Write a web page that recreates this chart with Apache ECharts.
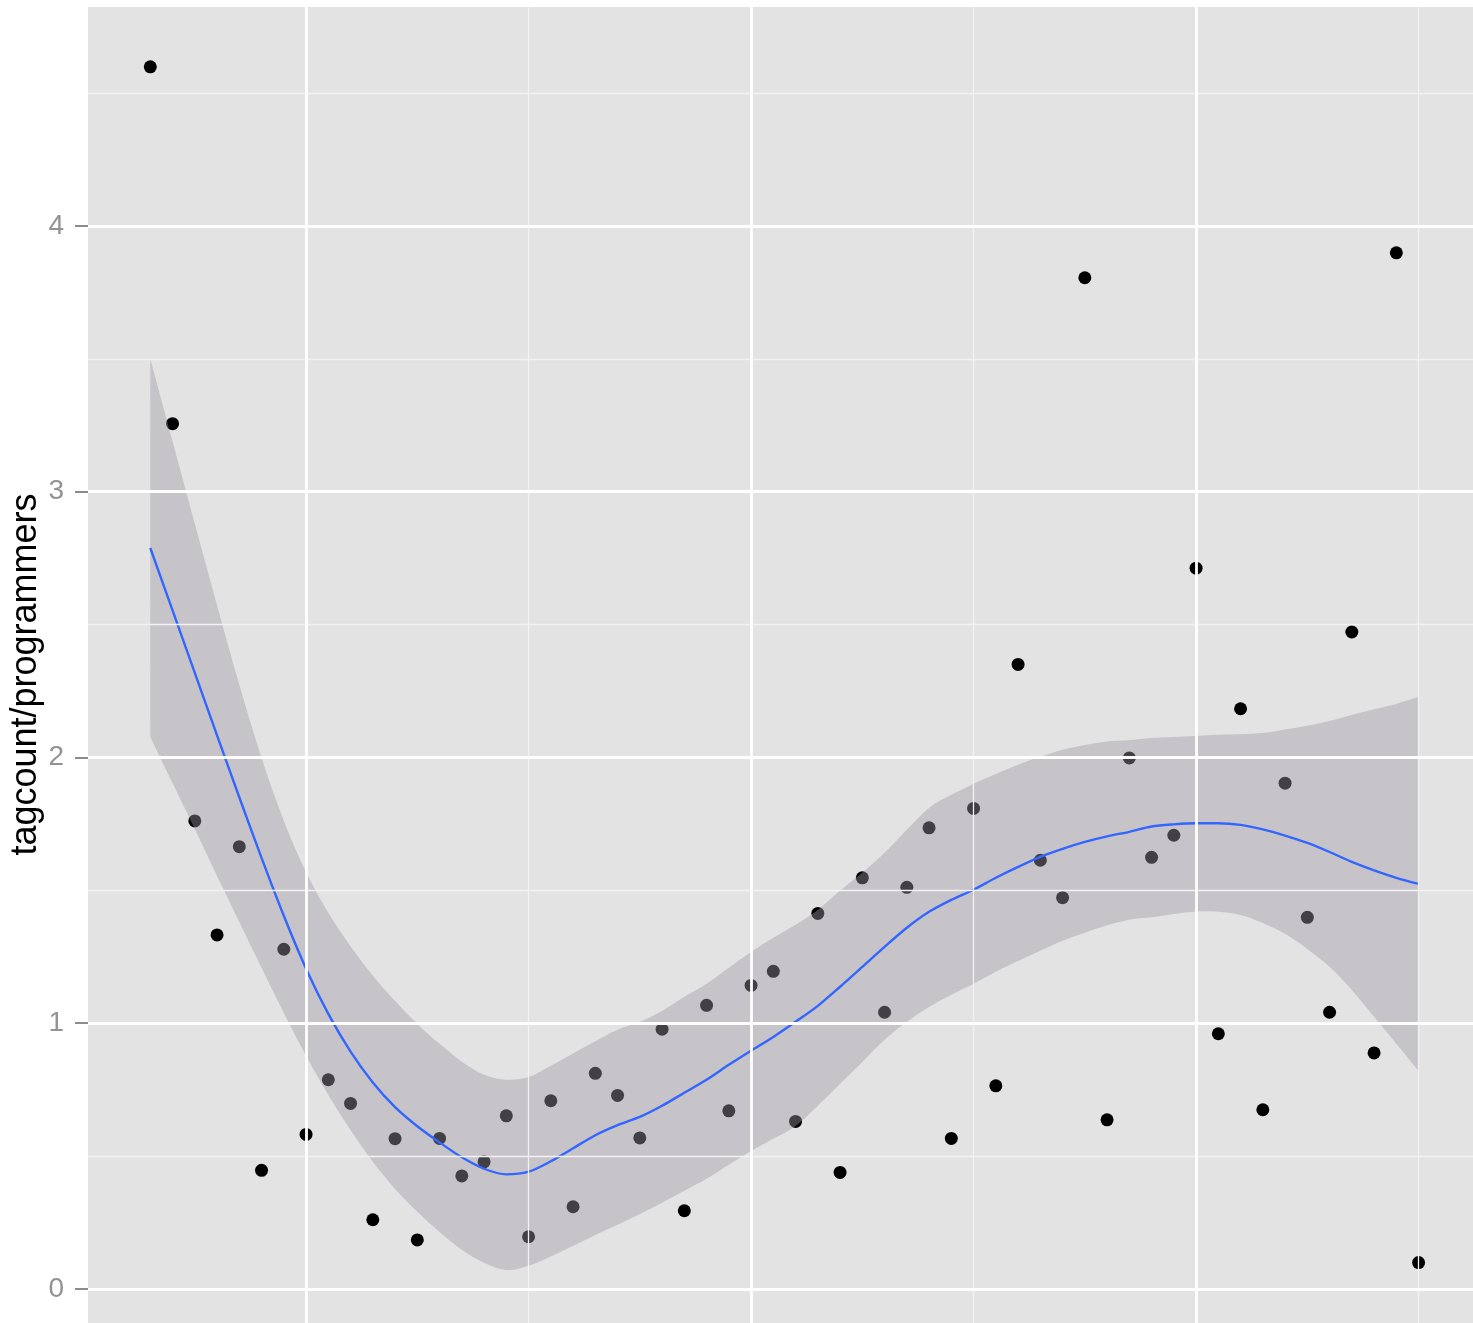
<!DOCTYPE html>
<html>
<head>
<meta charset="utf-8">
<script src="https://cdn.jsdelivr.net/npm/echarts@6/dist/echarts.min.js"></script>
<style>
html,body{margin:0;padding:0;background:#fff;}
#chart{width:1473px;height:1323px;}
</style>
</head>
<body>
<div id="chart"></div>
<script>
// ---- data ----
const years = [1953,1954,1955,1956,1957,1958,1959,1960,1961,1962,1963,1964,1965,1966,1967,1968,1969,1970,1971,1972,1973,1974,1975,1976,1977,1978,1979,1980,1981,1982,1983,1984,1985,1986,1987,1988,1989,1990,1991,1992,1993,1994,1995,1996,1997,1998,1999,2000,2001,2002,2003,2004,2005,2006,2007,2008,2009,2010];
const ratio = [4.599,3.256,1.761,1.332,1.664,0.446,1.278,0.581,0.787,0.698,0.260,0.565,0.184,0.566,0.425,0.478,0.651,0.196,0.708,0.309,0.811,0.728,0.568,0.977,0.294,1.067,0.670,1.142,1.195,0.630,1.413,0.438,1.547,1.041,1.511,1.735,0.566,1.808,0.764,2.350,1.613,1.472,3.805,0.636,1.998,1.624,1.707,2.712,0.960,2.183,0.674,1.903,1.398,1.041,2.472,0.888,3.899,0.099];
const fit = [2.788,2.553,2.318,2.083,1.850,1.622,1.404,1.205,1.035,0.893,0.777,0.684,0.612,0.551,0.495,0.452,0.431,0.441,0.480,0.529,0.578,0.616,0.647,0.689,0.738,0.787,0.843,0.896,0.948,1.005,1.065,1.137,1.212,1.287,1.359,1.419,1.464,1.502,1.547,1.588,1.626,1.656,1.682,1.703,1.720,1.740,1.748,1.752,1.752,1.746,1.729,1.706,1.678,1.644,1.607,1.575,1.547,1.524];
const upper = [3.500,3.190,2.878,2.572,2.273,1.998,1.762,1.568,1.415,1.289,1.178,1.083,0.997,0.922,0.855,0.806,0.787,0.797,0.840,0.886,0.932,0.975,1.005,1.046,1.099,1.148,1.208,1.268,1.321,1.370,1.426,1.498,1.566,1.641,1.728,1.810,1.859,1.901,1.938,1.972,2.002,2.029,2.047,2.060,2.065,2.073,2.077,2.081,2.085,2.087,2.092,2.105,2.119,2.137,2.160,2.181,2.201,2.228];
const lower = [2.077,1.904,1.731,1.554,1.381,1.208,1.039,0.877,0.730,0.598,0.478,0.376,0.290,0.214,0.147,0.098,0.071,0.087,0.122,0.162,0.203,0.241,0.282,0.324,0.369,0.414,0.467,0.519,0.565,0.613,0.689,0.772,0.854,0.937,1.005,1.061,1.107,1.148,1.193,1.234,1.272,1.310,1.340,1.368,1.389,1.398,1.411,1.420,1.419,1.407,1.377,1.336,1.279,1.212,1.125,1.024,0.922,0.820];
const yTickLabels = [0,1,2,3,4];
const yMajor = [0,1,2,3,4];
const yMinor = [0.5,1.5,2.5,3.5,4.5];
const xMajor = [1960,1980,2000];
const xMinor = [1970,1990,2010];

// ---- build ----
const pts = years.map((x,i)=>[x, ratio[i]]);
const fitPts = years.map((x,i)=>[x, fit[i]]);

function ml(list, key, width, color){
  return list.map(v=>({[key]: v, lineStyle:{width:width, color:color, type:'solid'}}));
}

// Catmull-Rom spline through pixel points -> SVG path commands
function splinePath(p, moveFirst){
  let d = moveFirst ? 'M' + p[0][0] + ' ' + p[0][1] : 'L' + p[0][0] + ' ' + p[0][1];
  for (let i = 0; i < p.length - 1; i++){
    const p0 = p[Math.max(i-1,0)], p1 = p[i], p2 = p[i+1], p3 = p[Math.min(i+2,p.length-1)];
    const c1x = p1[0] + (p2[0]-p0[0])/6, c1y = p1[1] + (p2[1]-p0[1])/6;
    const c2x = p2[0] - (p3[0]-p1[0])/6, c2y = p2[1] - (p3[1]-p1[1])/6;
    d += ' C' + c1x + ' ' + c1y + ' ' + c2x + ' ' + c2y + ' ' + p2[0] + ' ' + p2[1];
  }
  return d;
}

function renderRibbon(params, api){
  const top = years.map((x,i)=>api.coord([x, upper[i]]));
  const bot = years.map((x,i)=>api.coord([x, lower[i]])).reverse();
  const d = splinePath(top, true) + ' ' + splinePath(bot, false) + ' Z';
  return {
    type:'path',
    shape:{pathData: d},
    style:{fill:'rgba(158,150,164,0.42)', stroke:null, lineWidth:0}
  };
}

const chart = echarts.init(document.getElementById('chart'), null, {renderer:'canvas'});
chart.setOption({
  animation:false,
  backgroundColor:'#ffffff',
  grid:{left:88, top:7, width:1394, height:1335, show:true, backgroundColor:'#E3E3E3', borderWidth:0,
        containLabel:false, outerBoundsMode:'none'},
  xAxis:{type:'value', min:1950.2, max:2012.85, show:false, splitLine:{show:false}},
  yAxis:{
    type:'value', min:-0.2, max:4.824,
    name:'tagcount/programmers', nameLocation:'middle', nameGap:44, nameRotate:90, nameMoveOverlap:false,
    nameTextStyle:{fontFamily:'Liberation Sans', fontSize:36, color:'#000'},
    axisLine:{show:false},
    axisTick:{show:true, length:13, lineStyle:{color:'#8c8c8c', width:2}, customValues: yTickLabels},
    axisLabel:{show:true, margin:24, fontFamily:'Liberation Sans', fontSize:28, color:'#939393', customValues: yTickLabels},
    splitLine:{show:false}
  },
  series:[
    {type:'line', data:[], z:1, silent:true,
      markLine:{silent:true, symbol:['none','none'], label:{show:false}, animation:false,
        data:[].concat(
          ml(yMinor,'yAxis',1.3,'#F2F2F2'),
          ml(xMinor,'xAxis',1.3,'#F2F2F2'),
          ml(yMajor,'yAxis',2.8,'#FFFFFF'),
          ml(xMajor,'xAxis',2.8,'#FFFFFF')
        )}
    },
    {type:'scatter', data:pts, z:2, symbol:'circle', symbolSize:13, itemStyle:{color:'#000000', opacity:1}, silent:true},
    {type:'custom', data:[[years[0], lower[0]]], z:3, silent:true, renderItem:renderRibbon,
      encode:{x:0, y:1}},
    {type:'line', data:fitPts, z:4, symbol:'none', smooth:0.3, lineStyle:{color:'#3366FF', width:2.4}, silent:true}
  ]
});
</script>
</body>
</html>
